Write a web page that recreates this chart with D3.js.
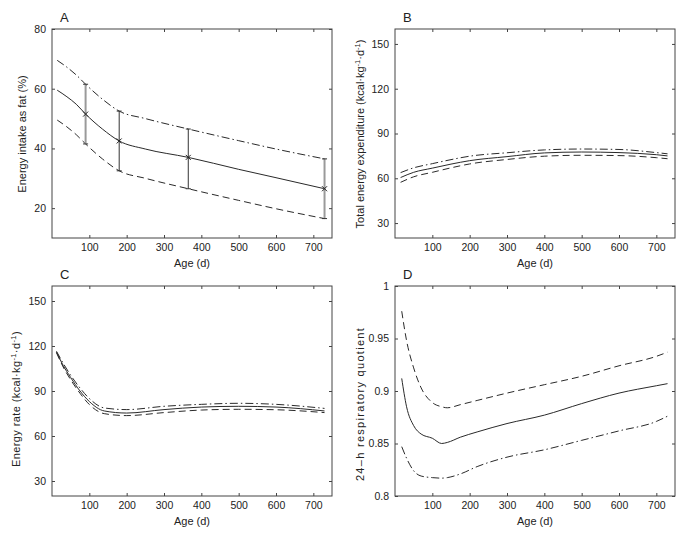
<!DOCTYPE html>
<html><head><meta charset="utf-8">
<script src="https://cdn.jsdelivr.net/npm/d3@7"></script>
<style>
body{margin:0;background:#fff;}
text{font-family:"Liberation Sans",Arial,Helvetica,sans-serif;fill:#222;}
</style>
</head><body>
<svg id="c" width="686" height="534"></svg>
<script>
// ---------- Panel A: energy intake as fat (%) ----------
const ageA   = [14, 40, 65, 90, 135, 180, 250, 365, 500, 600, 730];
const fatMean = [59.5, 57.3, 54.8, 51.5, 46.5, 42.5, 39.8, 37.0, 33.0, 30.2, 26.5];
const fatHigh = [69.5, 67.2, 64.6, 61.5, 56.5, 52.5, 50.0, 46.5, 42.6, 39.8, 36.5];
const fatLow  = [49.5, 47.2, 44.6, 41.5, 36.5, 32.5, 30.0, 26.5, 22.6, 19.8, 16.5];
const ageErr  = [90, 180, 365, 730];
const errMean = [51.5, 42.5, 37.0, 26.5];
const errLow  = [41.5, 32.5, 26.5, 16.5];
const errHigh = [61.5, 52.5, 46.5, 36.5];

// ---------- Panel B: total energy expenditure ----------
const ageB   = [15, 50, 100, 150, 200, 300, 400, 500, 600, 700, 730];
const teeMean = [60.5, 64.0, 66.8, 69.5, 71.8, 74.5, 77.0, 77.6, 77.2, 75.8, 75.0];
const teeHigh = [63.8, 67.0, 69.8, 72.5, 74.8, 77.1, 79.0, 79.6, 79.3, 77.2, 76.4];
const teeLow  = [57.3, 61.0, 64.0, 67.0, 69.6, 72.6, 74.8, 75.4, 75.2, 73.8, 73.1];

// ---------- Panel C: energy rate ----------
const ageC   = [12, 30, 50, 75, 100, 140, 200, 300, 400, 500, 600, 730];
const erMean = [116.0, 107.0, 99.0, 90.0, 83.0, 76.7, 75.3, 77.6, 79.3, 79.8, 79.3, 76.7];
const erHigh = [116.5, 108.5, 100.5, 92.0, 85.0, 78.7, 77.6, 79.8, 81.1, 81.8, 81.1, 78.4];
const erLow  = [115.5, 106.0, 97.5, 88.5, 81.0, 74.9, 73.6, 75.6, 77.3, 77.8, 77.5, 75.6];

// ---------- Panel D: 24-h respiratory quotient ----------
const ageD   = [18, 31, 50, 70, 100, 125, 140, 175, 220, 300, 400, 500, 600, 700, 730];
const rqMean = [0.912, 0.885, 0.867, 0.859, 0.855, 0.850, 0.851, 0.856, 0.861, 0.869, 0.877, 0.888, 0.898, 0.905, 0.907];
const rqHigh = [0.976, 0.948, 0.922, 0.903, 0.889, 0.885, 0.884, 0.887, 0.891, 0.898, 0.906, 0.914, 0.924, 0.933, 0.937];
const rqLow  = [0.847, 0.836, 0.824, 0.819, 0.8175, 0.817, 0.8175, 0.821, 0.828, 0.837, 0.844, 0.853, 0.862, 0.871, 0.876];

// ---------- Axis ticks ----------
const xTicks  = [100, 200, 300, 400, 500, 600, 700];
const yTicksA = [20, 40, 60, 80];
const yTicksE = [30, 60, 90, 120, 150];
const yTicksD = [0.8, 0.85, 0.9, 0.95, 1];

const svg = d3.select("#c");
const lineColor = "#2a2a2a";
const styles = {
  solid:   null,
  dashed:  "7,4",
  dashdot: "8,3,1.5,3"
};

function panel(o) {
  const x = d3.scaleLinear().domain([0, 750]).range([o.l, o.r]);
  const y = d3.scaleLinear().domain(o.yDomain).range([o.b, o.t]);
  const g = svg.append("g");

  const axB = g.append("g").attr("transform", `translate(0,${o.b})`)
    .call(d3.axisBottom(x).tickValues(xTicks).tickSize(-3).tickPadding(6));
  const axT = g.append("g").attr("transform", `translate(0,${o.t})`)
    .call(d3.axisTop(x).tickValues(xTicks).tickSize(-3).tickFormat(""));
  const axL = g.append("g").attr("transform", `translate(${o.l},0)`)
    .call(d3.axisLeft(y).tickValues(o.yTicks).tickSize(-3).tickPadding(6).tickFormat(o.fmt || d3.format("~g")));
  const axR = g.append("g").attr("transform", `translate(${o.r},0)`)
    .call(d3.axisRight(y).tickValues(o.yTicks).tickSize(-3).tickFormat(""));
  [axB, axT, axL, axR].forEach(a => {
    a.select(".domain").remove();
    a.selectAll("line").attr("stroke", "#444");
    a.selectAll("text").style("font-size", "10.5px").attr("fill", "#222");
  });

  g.append("rect").attr("x", o.l).attr("y", o.t)
    .attr("width", o.r - o.l).attr("height", o.b - o.t)
    .attr("fill", "none").attr("stroke", "#444").attr("stroke-width", 1);

  const line = d3.line().x(d => x(d[0])).y(d => y(d[1])).curve(d3.curveMonotoneX);
  o.series.forEach(s => {
    g.append("path").datum(d3.zip(s.x, s.y))
      .attr("d", line).attr("fill", "none")
      .attr("stroke", lineColor).attr("stroke-width", 1)
      .attr("stroke-dasharray", styles[s.style]);
  });

  g.append("text").attr("x", (o.l + o.r) / 2).attr("y", o.b + 29)
    .attr("text-anchor", "middle").style("font-size", "11px").text("Age (d)");

  g.append("text").attr("x", o.l + 8).attr("y", o.t - 7)
    .style("font-size", "13px").text(o.letter);

  const yl = g.append("text")
    .attr("transform", `translate(${o.ylx},${o.yly}) rotate(-90)`)
    .attr("text-anchor", "middle").style("font-size", "11px");
  if (o.ls) yl.style("letter-spacing", o.ls);
  o.ylabel.forEach(p => {
    const ts = yl.append("tspan").text(p.t);
    if (p.sup) ts.attr("dy", -4).style("font-size", "7.5px");
    if (p.after) ts.attr("dy", 4);
  });
  return {g, x, y};
}

// Panel A
const pA = panel({
  l: 52, r: 332, t: 29, b: 238, yDomain: [10, 80], yTicks: yTicksA, letter: "A",
  ylx: 26, yly: 134,
  ylabel: [{t: "Energy intake as fat (%)"}],
  series: [
    {x: ageA, y: fatHigh, style: "dashdot"},
    {x: ageA, y: fatMean, style: "solid"},
    {x: ageA, y: fatLow,  style: "dashed"}
  ]
});
ageErr.forEach((a, i) => {
  const light = (i === 0 || i === 3);
  const col = light ? "#9a9a9a" : "#333";
  const w = light ? 2 : 1;
  const cx = pA.x(a);
  pA.g.append("line").attr("x1", cx).attr("x2", cx)
    .attr("y1", pA.y(errLow[i])).attr("y2", pA.y(errHigh[i]))
    .attr("stroke", col).attr("stroke-width", w);
  [errLow[i], errHigh[i]].forEach(v => {
    pA.g.append("line").attr("x1", cx - 2.5).attr("x2", cx + 2.5)
      .attr("y1", pA.y(v)).attr("y2", pA.y(v))
      .attr("stroke", "#333").attr("stroke-width", 1);
  });
  const cy = pA.y(errMean[i]);
  pA.g.append("path")
    .attr("d", `M${cx-2.5},${cy-2.5}L${cx+2.5},${cy+2.5}M${cx-2.5},${cy+2.5}L${cx+2.5},${cy-2.5}`)
    .attr("stroke", "#222").attr("stroke-width", 1).attr("fill", "none");
});

// Panel B
panel({
  l: 395, r: 675, t: 29, b: 238, yDomain: [20, 160], yTicks: yTicksE, letter: "B",
  ylx: 364, yly: 134,
  ylabel: [{t: "Total energy expenditure (kcal·kg"}, {t: "-1", sup: true}, {t: "·d", after: true}, {t: "-1", sup: true}, {t: ")", after: true}],
  series: [
    {x: ageB, y: teeHigh, style: "dashdot"},
    {x: ageB, y: teeMean, style: "solid"},
    {x: ageB, y: teeLow,  style: "dashed"}
  ]
});

// Panel C
panel({
  l: 52, r: 332, t: 286, b: 496, yDomain: [20, 160], yTicks: yTicksE, letter: "C",
  ylx: 20, yly: 399, ls: "0.4px",
  ylabel: [{t: "Energy rate  (kcal·kg"}, {t: "-1", sup: true}, {t: "·d", after: true}, {t: "-1", sup: true}, {t: ")", after: true}],
  series: [
    {x: ageC, y: erHigh, style: "dashdot"},
    {x: ageC, y: erMean, style: "solid"},
    {x: ageC, y: erLow,  style: "dashed"}
  ]
});

// Panel D
panel({
  l: 395, r: 675, t: 286, b: 496, yDomain: [0.8, 1], yTicks: yTicksD, letter: "D",
  ylx: 364, yly: 404, ls: "1.3px",
  ylabel: [{t: "24–h respiratory quotient"}],
  series: [
    {x: ageD, y: rqHigh, style: "dashed"},
    {x: ageD, y: rqMean, style: "solid"},
    {x: ageD, y: rqLow,  style: "dashdot"}
  ]
});
</script>
</body></html>
